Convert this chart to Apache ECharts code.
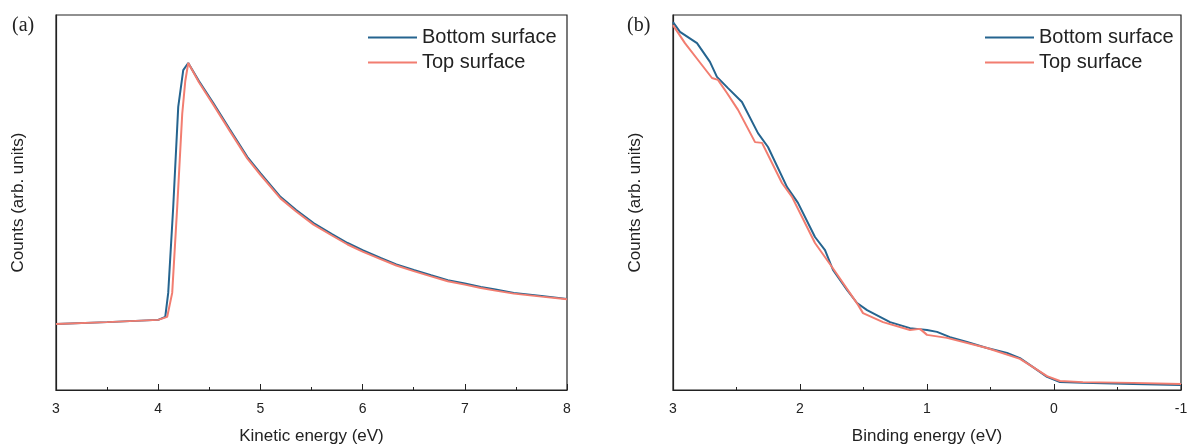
<!DOCTYPE html>
<html>
<head>
<meta charset="utf-8">
<script src="https://cdn.jsdelivr.net/npm/echarts@6/dist/echarts.min.js"></script>
<style>
html,body{margin:0;padding:0;background:#fff;}
#c{width:1190px;height:444px;}
</style>
</head>
<body>
<div id="c"></div>
<script>
// Panel (a): kinetic energy (eV) vs counts (arb. units)
const aBottomX = [3.0, 3.5, 4.0, 4.069, 4.098, 4.147, 4.196, 4.245, 4.294, 4.4, 4.539, 4.7, 4.873, 5.0, 5.196, 5.35, 5.52, 5.7, 5.853, 6.0, 6.176, 6.33, 6.5, 6.67, 6.833, 7.0, 7.157, 7.3, 7.48, 7.75, 8.0];
const aBottomY = [17.6, 18.1, 18.7, 19.5, 25.9, 48.8, 75.5, 85.3, 87.2, 82.3, 76.5, 69.5, 62.1, 57.8, 51.5, 48.0, 44.5, 41.6, 39.2, 37.3, 35.2, 33.5, 32.0, 30.6, 29.3, 28.4, 27.5, 26.8, 25.9, 25.1, 24.3];
const aTopX = [3.0, 3.5, 4.0, 4.088, 4.137, 4.186, 4.235, 4.265, 4.294, 4.4, 4.539, 4.7, 4.873, 5.0, 5.196, 5.35, 5.52, 5.7, 5.853, 6.0, 6.176, 6.33, 6.5, 6.67, 6.833, 7.0, 7.157, 7.3, 7.48, 7.75, 8.0];
const aTopY = [17.6, 18.1, 18.7, 19.5, 25.9, 48.8, 73.6, 82.4, 87.2, 82.0, 76.1, 69.1, 61.7, 57.4, 51.1, 47.6, 44.1, 41.2, 38.8, 36.9, 34.9, 33.2, 31.7, 30.3, 29.0, 28.1, 27.2, 26.5, 25.7, 24.9, 24.2];

// Panel (b): binding energy (eV) vs counts (arb. units)
const bBottomX = [3.0, 2.945, 2.811, 2.709, 2.654, 2.567, 2.457, 2.331, 2.252, 2.102, 2.016, 1.882, 1.803, 1.740, 1.630, 1.551, 1.472, 1.291, 1.134, 1.079, 1.0, 0.921, 0.819, 0.685, 0.528, 0.370, 0.268, 0.165, 0.055, -0.047, -0.228, -0.622, -1.0];
const bBottomY = [98.1, 95.5, 92.5, 87.5, 83.5, 80.5, 76.8, 68.5, 64.8, 54.1, 49.9, 40.8, 37.3, 32.0, 26.7, 23.2, 21.3, 18.1, 16.5, 16.3, 16.0, 15.5, 14.1, 12.8, 11.2, 9.9, 8.5, 6.1, 3.5, 2.1, 1.9, 1.6, 1.3];
const bTopX = [3.0, 2.906, 2.803, 2.693, 2.646, 2.575, 2.488, 2.354, 2.299, 2.142, 2.063, 1.882, 1.748, 1.543, 1.504, 1.346, 1.134, 1.055, 1.0, 0.843, 0.528, 0.268, 0.165, 0.055, -0.047, -0.228, -0.622, -1.0];
const bTopY = [97.3, 92.5, 88.0, 83.2, 82.7, 79.2, 74.7, 66.1, 65.9, 55.2, 51.5, 39.2, 32.8, 22.7, 20.5, 18.1, 16.0, 16.3, 14.7, 13.9, 11.2, 8.3, 6.1, 3.7, 2.4, 2.1, 1.9, 1.6];

const aTicks = [3, 4, 5, 6, 7, 8];
const bTicks = [3, 2, 1, 0, -1];
const seriesNames = ['Bottom surface', 'Top surface'];
const colors = ['#25648f', '#f27d70'];

function pairs(xs, ys) { return xs.map((x, i) => [x, ys[i]]); }

const chart = echarts.init(document.getElementById('c'), null, {renderer: 'canvas'});
const font = 'Liberation Sans, Arial, sans-serif';

function xAxisCfg(idx, min, max, name, inverse) {
  return {
    type: 'value', gridIndex: idx, min: min, max: max, interval: 1, inverse: inverse,
    name: name, nameLocation: 'middle', nameGap: 38,
    nameTextStyle: {fontFamily: font, fontSize: 17, color: '#222'},
    axisLine: {show: true, onZero: false, lineStyle: {color: '#222', width: 1.2}},
    axisTick: {show: true, inside: true, length: 6, lineStyle: {color: '#222'}},
    minorTick: {show: true, splitNumber: 2, length: 3, lineStyle: {color: '#222'}},
    splitLine: {show: false}, minorSplitLine: {show: false},
    axisLabel: {fontFamily: font, fontSize: 14, color: '#222', margin: 12,
      formatter: v => String(v)}
  };
}
function yAxisCfg(idx) {
  return {
    type: 'value', gridIndex: idx, min: 0, max: 100,
    name: 'Counts (arb. units)', nameLocation: 'middle', nameGap: 29,
    nameTextStyle: {fontFamily: font, fontSize: 17, color: '#222'},
    axisLine: {show: true, onZero: false, lineStyle: {color: '#222', width: 1.2}},
    axisTick: {show: false}, axisLabel: {show: false}, splitLine: {show: false}
  };
}
function lineSeries(name, data, xi, color) {
  return {
    name: name, type: 'line', xAxisIndex: xi, yAxisIndex: xi, data: data,
    showSymbol: false, symbol: 'none', smooth: false,
    lineStyle: {color: color, width: 2}, itemStyle: {color: color}, animation: false
  };
}
function legendCfg(left) {
  return {
    left: left, top: 26, orient: 'vertical', padding: 0,
    itemWidth: 49, itemHeight: 2, itemGap: 2,
    icon: 'rect',
    textStyle: {fontFamily: font, fontSize: 20, color: '#222', lineHeight: 23},
    data: seriesNames, selectedMode: false
  };
}

chart.setOption({
  animation: false,
  grid: [
    {left: 56, top: 15, width: 511, height: 375, outerBoundsMode: 'none', containLabel: false, show: true, borderColor: '#222', borderWidth: 1.2, backgroundColor: 'transparent'},
    {left: 673, top: 15, width: 508, height: 375, outerBoundsMode: 'none', containLabel: false, show: true, borderColor: '#222', borderWidth: 1.2, backgroundColor: 'transparent'}
  ],
  xAxis: [
    xAxisCfg(0, aTicks[0], aTicks[aTicks.length - 1], 'Kinetic energy (eV)', false),
    xAxisCfg(1, bTicks[bTicks.length - 1], bTicks[0], 'Binding energy (eV)', true)
  ],
  yAxis: [yAxisCfg(0), yAxisCfg(1)],
  legend: [legendCfg(368), legendCfg(985)],
  graphic: [
    {type: 'text', left: 12, top: 16, style: {text: '(a)', font: '20px "Liberation Serif", "Times New Roman", serif', fill: '#222'}},
    {type: 'text', left: 627, top: 16, style: {text: '(b)', font: '20px "Liberation Serif", "Times New Roman", serif', fill: '#222'}}
  ],
  series: [
    lineSeries(seriesNames[0], pairs(aBottomX, aBottomY), 0, colors[0]),
    lineSeries(seriesNames[1], pairs(aTopX, aTopY), 0, colors[1]),
    lineSeries(seriesNames[0], pairs(bBottomX, bBottomY), 1, colors[0]),
    lineSeries(seriesNames[1], pairs(bTopX, bTopY), 1, colors[1])
  ]
});
</script>
</body>
</html>
